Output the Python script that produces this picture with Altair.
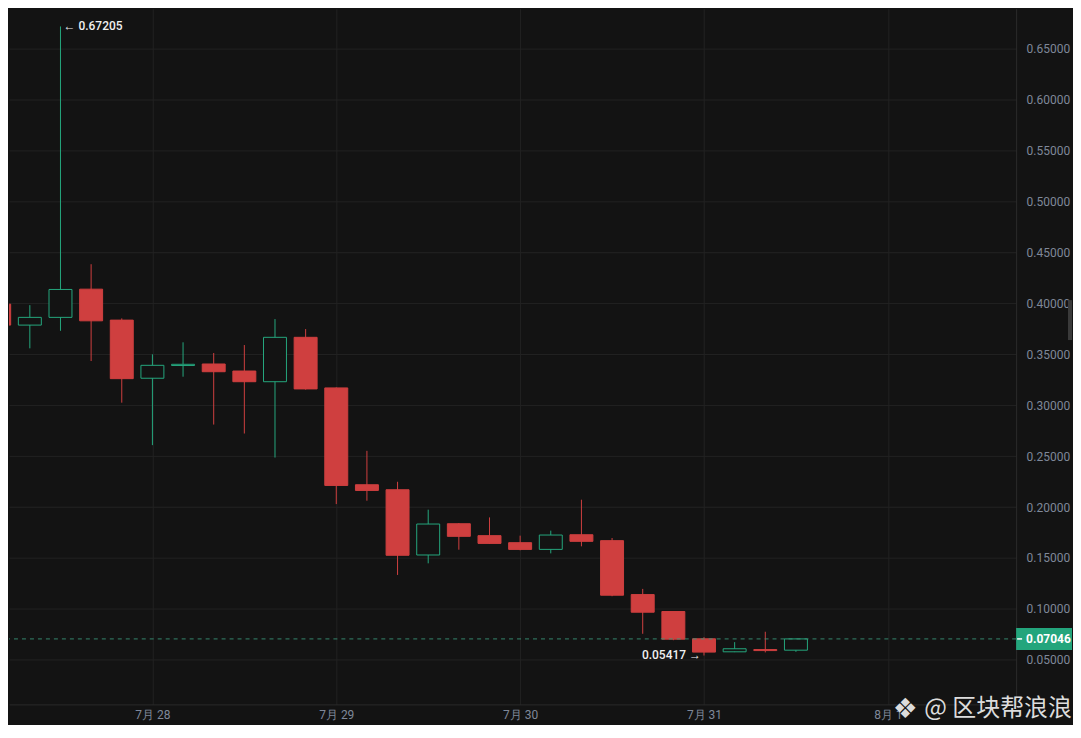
import altair as alt
import pandas as pd

# ---- data (4-hour candles; hours relative to 7月28 00:00) ----
hours = [-20, -16, -12, -8, -4, 0, 4, 8, 12, 16, 20, 24, 28, 32, 36, 40, 44,
         48, 52, 56, 60, 64, 68, 72, 76, 80, 84]
opens = [0.3993, 0.3787, 0.3863, 0.4140, 0.3836, 0.3265, 0.3390, 0.3405, 0.3336,
         0.3231, 0.3667, 0.3170, 0.2219, 0.2170, 0.1529, 0.1836, 0.1719, 0.1650,
         0.1584, 0.1728, 0.1670, 0.1140, 0.0974, 0.0706, 0.0578, 0.0600, 0.0594]
highs = [0.4010, 0.3983, 0.67205, 0.4385, 0.3853, 0.3500, 0.3618, 0.3513, 0.3591,
         0.3846, 0.3748, 0.3175, 0.2552, 0.2248, 0.1974, 0.1843, 0.1898, 0.1719,
         0.1768, 0.2072, 0.1696, 0.1196, 0.0975, 0.0722, 0.0673, 0.0775, 0.0706]
lows = [0.3770, 0.3559, 0.3731, 0.3434, 0.3025, 0.2608, 0.3280, 0.2810, 0.2722,
        0.2486, 0.3153, 0.2029, 0.2062, 0.1333, 0.1447, 0.1581, 0.1640, 0.1575,
        0.1545, 0.1614, 0.1124, 0.0755, 0.0692, 0.05417, 0.0575, 0.0572, 0.0578]
closes = [0.3787, 0.3863, 0.4137, 0.3829, 0.3261, 0.3392, 0.3402, 0.3329, 0.3231,
          0.3667, 0.3160, 0.2212, 0.2163, 0.1526, 0.1833, 0.1712, 0.1643, 0.1584,
          0.1725, 0.1663, 0.1134, 0.0967, 0.0702, 0.0575, 0.0608, 0.0590, 0.07046]

day_ticks = [0, 24, 48, 72, 96]
day_labels = ["7月 28", "7月 29", "7月 30", "7月 31", "8月 1"]
price_ticks = [0.05, 0.10, 0.15, 0.20, 0.25, 0.30, 0.35, 0.40, 0.45, 0.50, 0.55, 0.60, 0.65]

last_price = 0.07046
max_price = 0.67205
max_hour = -12
min_price = 0.05417
min_hour = 72

BG = "#131313"
GRID = "#222222"
RED = "#cf3f3f"
GREEN = "#25a77d"
LABEL = "#7f8899"

df = pd.DataFrame({"t": hours, "o": opens, "h": highs, "l": lows, "c": closes})
df["dir"] = ["up" if c >= o else "down" for o, c in zip(opens, closes)]

xscale = alt.Scale(domain=[-18.72, 112.74], nice=False, zero=False, padding=0)
yscale = alt.Scale(domain=[0.00618, 0.6895], nice=False, zero=False, padding=0)

labels_js = "[" + ",".join("'" + s + "'" for s in day_labels) + "]"

xaxis = alt.Axis(values=day_ticks, labelExpr=labels_js + "[round(datum.value/24)]",
                 ticks=False, labelPadding=5, labelColor=LABEL, labelFontSize=12,
                 labelFont="Roboto", domainColor="#2a2a2a", gridColor=GRID,
                 title=None, minExtent=19, maxExtent=19, labelFlush=False)
yaxis = alt.Axis(orient="right", values=price_ticks, format=".5f", ticks=False,
                 labelPadding=10, labelColor=LABEL, labelFontSize=12, labelFont="Roboto",
                 domainColor="#2a2a2a", gridColor=GRID, title=None,
                 minExtent=56, maxExtent=56)

color_scale = alt.Scale(domain=["up", "down"], range=[GREEN, RED])
fill_scale = alt.Scale(domain=["up", "down"], range=[BG, RED])

base = alt.Chart(df)

wicks = base.mark_rule(strokeWidth=1, clip=True).encode(
    x=alt.X("t:Q", scale=xscale, axis=xaxis),
    y=alt.Y("l:Q", scale=yscale, axis=yaxis),
    y2="h:Q",
    color=alt.Color("dir:N", scale=color_scale, legend=None),
)

bodies = base.mark_bar(size=23, strokeWidth=1, clip=True).encode(
    x=alt.X("t:Q", scale=xscale),
    y=alt.Y("o:Q", scale=yscale),
    y2="c:Q",
    fill=alt.Fill("dir:N", scale=fill_scale, legend=None),
    stroke=alt.Stroke("dir:N", scale=color_scale, legend=None),
)

last_df = pd.DataFrame({"p": [last_price], "txt": [f"{last_price:.5f}"]})
last_line = alt.Chart(last_df).mark_rule(strokeDash=[4, 4], strokeWidth=1, color="#3a9a7c",
                                         opacity=0.85).encode(
    y=alt.Y("p:Q", scale=yscale),
)
last_box = alt.Chart(last_df).mark_rect(color="#23a57c", yOffset=-11, y2Offset=11).encode(
    x=alt.value(1009), x2=alt.value(1065),
    y=alt.Y("p:Q", scale=yscale), y2="p:Q",
)
last_tick = alt.Chart(last_df).mark_rule(color="white", strokeWidth=1.5).encode(
    x=alt.value(1010), x2=alt.value(1015),
    y=alt.Y("p:Q", scale=yscale),
)
last_text = alt.Chart(last_df).mark_text(align="left", baseline="middle", color="white",
                                         fontSize=12, fontWeight="bold", font="Roboto").encode(
    x=alt.value(1019), y=alt.Y("p:Q", scale=yscale), text="txt:N",
)

hi_df = pd.DataFrame({"t": [max_hour], "p": [max_price], "txt": ["← " + f"{max_price:.5f}"]})
hi_text = alt.Chart(hi_df).mark_text(align="left", baseline="middle", dx=3, color="#f0f0f0",
                                     fontSize=12, fontWeight=500, font="Roboto").encode(
    x=alt.X("t:Q", scale=xscale), y=alt.Y("p:Q", scale=yscale), text="txt:N",
)
lo_df = pd.DataFrame({"t": [min_hour], "p": [min_price], "txt": [f"{min_price:.5f}" + " →"]})
lo_text = alt.Chart(lo_df).mark_text(align="right", baseline="middle", dx=-3, color="#f0f0f0",
                                     fontSize=12, fontWeight=500, font="Roboto").encode(
    x=alt.X("t:Q", scale=xscale), y=alt.Y("p:Q", scale=yscale), text="txt:N",
)

frame_df = pd.DataFrame({"k": [1]})
side_tab = alt.Chart(frame_df).mark_rect(color="#3a3a3a").encode(
    x=alt.value(1061), x2=alt.value(1065), y=alt.value(292), y2=alt.value(332),
)

wm_df = pd.DataFrame({"logo": ["❖"], "txt": ["@ 区块帮浪浪"]})
wm_logo = alt.Chart(wm_df).mark_text(align="center", baseline="middle", fontSize=28,
                                     color="#dcdcdc", font="DejaVu Sans").encode(
    x=alt.value(898), y=alt.value(703), text="logo:N",
)
wm_text = alt.Chart(wm_df).mark_text(align="left", baseline="middle", fontSize=24,
                                     color="#dcdcdc", font="Noto Sans CJK SC").encode(
    x=alt.value(917), y=alt.value(702), text="txt:N",
)

chart = alt.layer(
    wicks, bodies, last_line, last_box, last_tick, last_text, hi_text, lo_text,
    side_tab, wm_logo, wm_text,
).properties(
    width=1009, height=697, background=BG, padding=0,
).configure_view(stroke=None)

chart.save("out.html", embed_options={"renderer": "svg", "actions": False})
